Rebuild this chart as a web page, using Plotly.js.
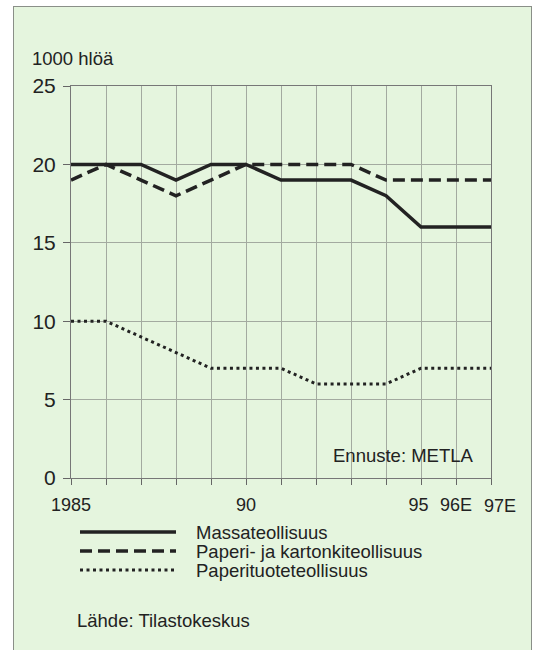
<!DOCTYPE html>
<html>
<head>
<meta charset="utf-8">
<script src="https://cdn.plot.ly/plotly-3.0.1.min.js"></script>
<style>
  html, body { margin:0; padding:0; background:#ffffff; }
  #wrap { position:relative; width:543px; height:650px; overflow:hidden; background:#ffffff; }
  #frame { position:absolute; left:13px; top:6px; width:517px; height:660px; background:#e5f5de; border:1px solid #8a8f88; }
  #chart { position:absolute; left:0; top:0; width:543px; height:650px; }
</style>
</head>
<body>
<div id="wrap">
  <div id="frame"></div>
  <div id="chart"></div>
</div>
<script>
const years = [1985,1986,1987,1988,1989,1990,1991,1992,1993,1994,1995,1996,1997];
const tickLabels = ['1985','','','','','90','','','','','95','96E','97E'];
const seriesNames = ['Massateollisuus','Paperi- ja kartonkiteollisuus','Paperituoteteollisuus'];
const massa = [20,20,20,19,20,20,19,19,19,18,16,16,16];
const paperi = [19,20,19,18,19,20,20,20,20,19,19,19,19];
const paperituote = [10,10,9,8,7,7,7,6,6,6,7,7,7];

const font = 'Liberation Sans, Arial, sans-serif';
const ink = '#222222';
const lineStyles = [
  {color:ink, width:3.5},
  {color:ink, width:3.5, dash:'12px,6px'},
  {color:ink, width:3, dash:'3px,3.5px'}
];
const seriesValues = [massa, paperi, paperituote];

const traces = seriesValues.map((vals, i) => ({
  x: years, y: vals, name: seriesNames[i], mode:'lines', line: lineStyles[i], showlegend:false
}));

// the last tick label sits a little right of its tick in the original; draw it as an annotation
const last = years.length - 1;
const shownTicks = tickLabels.map((t, i) => i === last ? '' : (i === 10 ? t + '\u00a0' : t));

// manual legend (samples + labels) placed in paper coordinates
const plotL = 71, plotR = 491, plotT = 86, plotB = 478;
const px = v => (v - plotL) / (plotR - plotL);
const py = v => (plotB - v) / (plotB - plotT);
const legendRows = [532, 551, 570];
const shapes = [];
const annotations = [];
seriesNames.forEach((n, i) => {
  shapes.push({type:'line', xref:'paper', yref:'paper', x0:px(80), x1:px(176),
               y0:py(legendRows[i]), y1:py(legendRows[i]), line:lineStyles[i]});
  annotations.push({text:n, xref:'paper', yref:'paper', x:px(194), y:py(legendRows[i]),
                    xanchor:'left', yanchor:'middle', showarrow:false,
                    font:{size:18.5, family:font, color:ink}});
});
annotations.push(
  {text:tickLabels[last], xref:'x', yref:'paper', x:years[last], xshift:9, y:py(506),
   xanchor:'center', yanchor:'middle', showarrow:false, font:{size:18, family:font, color:ink}},
  {text:'1000 hlöä', xref:'paper', yref:'paper', x:px(30), y:py(58), xanchor:'left', yanchor:'middle',
   showarrow:false, font:{size:18.5, family:font, color:ink}},
  {text:'Ennuste: METLA', xref:'paper', yref:'paper', x:px(476), y:py(455), xanchor:'right', yanchor:'middle',
   showarrow:false, font:{size:18.5, family:font, color:ink}},
  {text:'Lähde: Tilastokeskus', xref:'paper', yref:'paper', x:px(75), y:py(620), xanchor:'left', yanchor:'middle',
   showarrow:false, font:{size:18.5, family:font, color:ink}}
);

const layout = {
  width:543, height:650,
  paper_bgcolor:'rgba(0,0,0,0)', plot_bgcolor:'rgba(0,0,0,0)',
  margin:{l:plotL, r:543-plotR, t:plotT, b:650-plotB},
  font:{family:font, color:ink},
  showlegend:false,
  xaxis:{range:[1985,1997], tickvals:years, ticktext:shownTicks, ticks:'outside', ticklen:6,
         tickangle:0,
         tickcolor:'#666', showgrid:true, gridcolor:'#a3aaa0', gridwidth:1,
         showline:true, linecolor:'#777', linewidth:1, mirror:true, zeroline:false,
         ticklabelstandoff:4,
         tickfont:{size:18, family:font, color:ink}, fixedrange:true},
  yaxis:{range:[0,25], dtick:5, tick0:0, ticks:'outside', ticklen:7, tickcolor:'#666',
         showgrid:true, gridcolor:'#a3aaa0', gridwidth:1,
         showline:true, linecolor:'#777', linewidth:1, mirror:true, zeroline:false,
         ticklabelstandoff:3,
         tickfont:{size:21, family:font, color:ink}, fixedrange:true},
  shapes: shapes,
  annotations: annotations
};

Plotly.newPlot('chart', traces, layout, {displayModeBar:false, staticPlot:true});
</script>
</body>
</html>
